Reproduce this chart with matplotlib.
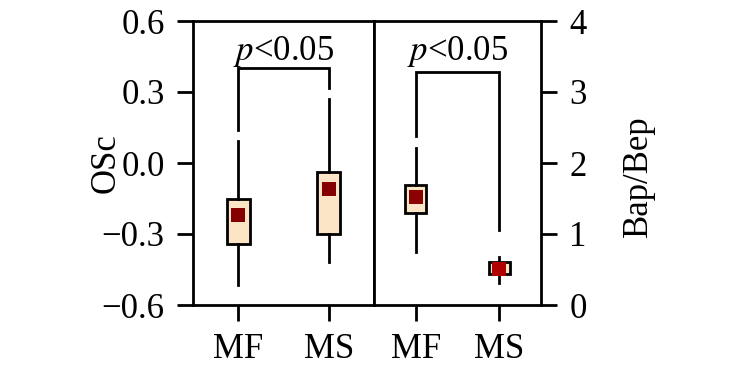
import matplotlib
matplotlib.use("Agg")
import matplotlib.pyplot as plt

plt.rcParams['font.family'] = ['Liberation Serif', 'DejaVu Serif']
plt.rcParams['mathtext.fontset'] = 'stix'

groups = ["MF", "MS"]

# Left panel: OSc
osc_q1 = [-0.342, -0.301]
osc_q3 = [-0.153, -0.039]
osc_mean = [-0.221, -0.111]
osc_lo = [-0.515, -0.417]
osc_hi = [0.094, 0.270]
osc_bracket_y = 0.403
osc_leg_ends = [0.139, 0.316]

# Right panel: Bap/Bep
bb_q1 = [1.291, 0.432]
bb_q3 = [1.690, 0.601]
bb_mean = [1.517, 0.511]
bb_lo = [0.751, 0.314]
bb_hi = [2.215, 0.680]
bb_bracket_y = 3.277
bb_leg_ends = [2.380, 1.056]

sig_label = r"$p$<0.05"

FS = 25
LW = 2.0
box_fill = "#FCE4C6"
mean_colors_left = ["#850000", "#850000"]
mean_colors_right = ["#8B0000", "#B00000"]

fig = plt.figure(figsize=(7.5, 3.76), dpi=100)
W, H = 750, 376
axL = fig.add_axes([193 / W, (H - 305) / H, 181 / W, 284 / H])
axR = fig.add_axes([374 / W, (H - 305) / H, 167 / W, 284 / H])


def draw(ax, q1, q3, mean, lo, hi, colors):
    stats = []
    for i in range(len(groups)):
        stats.append(dict(med=mean[i], q1=q1[i], q3=q3[i], whislo=lo[i],
                          whishi=hi[i], mean=mean[i], fliers=[]))
    ax.bxp(stats, positions=[1, 2], widths=0.25, showcaps=False,
           showfliers=False, showmeans=False, patch_artist=True,
           boxprops=dict(facecolor=box_fill, edgecolor="black", linewidth=LW),
           whiskerprops=dict(color="black", linewidth=LW),
           medianprops=dict(linewidth=0),
           zorder=2)
    for i, x in enumerate([1, 2]):
        ax.plot([x], [mean[i]], marker="s", markersize=10, color=colors[i],
                markeredgewidth=0, zorder=4, linestyle="none")


def bracket(ax, y, ends, label, label_y):
    ax.plot([1, 1, 2, 2], [ends[0], y, y, ends[1]], color="black",
            linewidth=LW, solid_joinstyle="miter", zorder=3)
    ax.text(1.5, label_y, label, ha="center", va="baseline", fontsize=FS)


draw(axL, osc_q1, osc_q3, osc_mean, osc_lo, osc_hi, mean_colors_left)
bracket(axL, osc_bracket_y, osc_leg_ends, sig_label, 0.435)
axL.set_ylim(-0.6, 0.6)
axL.set_yticks([-0.6, -0.3, 0.0, 0.3, 0.6])
axL.set_yticklabels(["\u22120.6", "\u22120.3", "0.0", "0.3", "0.6"])

draw(axR, bb_q1, bb_q3, bb_mean, bb_lo, bb_hi, mean_colors_right)
bracket(axR, bb_bracket_y, bb_leg_ends, sig_label, 3.45)
axR.set_ylim(0, 4)
axR.set_yticks([0, 1, 2, 3, 4])
axR.yaxis.tick_right()

for ax in (axL, axR):
    ax.set_xlim(0.5, 2.5)
    ax.set_xticks([1, 2])
    ax.set_xticklabels(groups)
    ax.tick_params(direction="out", length=11.5, width=LW, labelsize=FS, pad=9)
    for s in ax.spines.values():
        s.set_linewidth(LW)

axR.tick_params(axis="y", which="both", left=False, right=True)

fig.text(106 / W, 1 - 163 / H, "OSc", rotation=90, ha="center", va="center",
         fontsize=FS)
fig.text(638 / W, 1 - 176 / H, "Bap/Bep", rotation=90, ha="center",
         va="center", fontsize=FS)

fig.savefig("out.png", dpi=100)
